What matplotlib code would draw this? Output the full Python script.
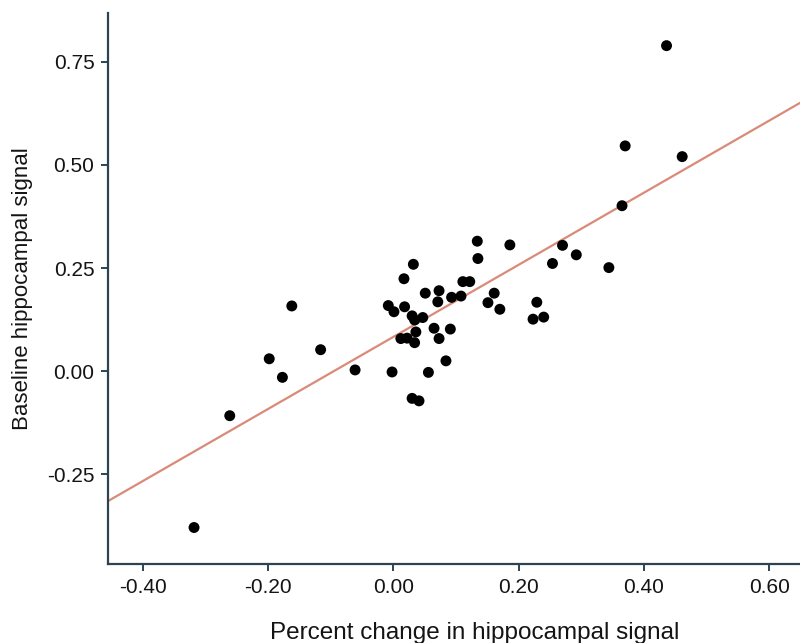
import numpy as np
import matplotlib
matplotlib.use("Agg")
import matplotlib.pyplot as plt

plt.rcParams['font.family'] = ['Liberation Sans', 'DejaVu Sans']

# percent change (x) and baseline signal (y) per subject
pct_change = [0.134, 0.186, 0.270, 0.292, 0.135, 0.254, 0.032, 0.017, 0.111, 0.122,
              0.073, 0.051, 0.161, 0.108, 0.093, 0.071, 0.151, 0.229, -0.008, 0.001,
              0.018, 0.170, 0.030, 0.047, 0.034, 0.223, 0.240, 0.065, 0.091, 0.036,
              0.012, 0.022, 0.034, 0.073, 0.084, -0.002, 0.056, 0.030, 0.041,
              -0.162, -0.116, -0.198, -0.177, -0.061, -0.261, -0.318,
              0.436, 0.370, 0.461, 0.365, 0.344]
baseline = [0.315, 0.306, 0.305, 0.282, 0.273, 0.261, 0.259, 0.224, 0.217, 0.217,
            0.195, 0.189, 0.189, 0.182, 0.179, 0.168, 0.166, 0.167, 0.159, 0.144,
            0.156, 0.150, 0.134, 0.130, 0.124, 0.126, 0.131, 0.104, 0.102, 0.095,
            0.079, 0.080, 0.069, 0.079, 0.025, -0.002, -0.003, -0.066, -0.072,
            0.158, 0.052, 0.030, -0.015, 0.003, -0.108, -0.379,
            0.789, 0.546, 0.520, 0.401, 0.251]

# fitted line
fit_intercept = 0.083
fit_slope = 0.874

xticks = [-0.40, -0.20, 0.00, 0.20, 0.40, 0.60]
yticks = [-0.25, 0.00, 0.25, 0.50, 0.75]

spine_col = '#2e4352'
text_col = '#141414'

fig = plt.figure(figsize=(8, 6.43), dpi=100)
ax = fig.add_axes([0.1354, 0.1229, 0.8646, 0.8573])

xlim = (-0.4548, 0.649)
ylim = (-0.4674, 0.8688)

xs = np.array(xlim)
ax.plot(xs, fit_intercept + fit_slope * xs, color='#d98a78', lw=1.6, zorder=1)
ax.scatter(pct_change, baseline, s=62, c='black', edgecolors='none', zorder=2)

ax.set_xlim(*xlim)
ax.set_ylim(*ylim)
ax.set_xticks(xticks)
ax.set_yticks(yticks)
ax.set_xticklabels([f'{v:.2f}' for v in xticks])
ax.set_yticklabels([f'{v:.2f}' for v in yticks])

for s in ['top', 'right']:
    ax.spines[s].set_visible(False)
for s in ['left', 'bottom']:
    ax.spines[s].set_color(spine_col)
    ax.spines[s].set_linewidth(1.6)

ax.tick_params(axis='both', direction='out', length=5, width=1.4, color=spine_col,
               labelsize=15, labelcolor=text_col, pad=5)

ax.set_xlabel('Percent change in hippocampal signal', fontsize=17.5, color=text_col, labelpad=18)
ax.xaxis.set_label_coords(0.529, -0.105)
ax.set_ylabel('Baseline hippocampal signal', fontsize=16, color=text_col, labelpad=10)

fig.savefig('out.png', dpi=100)
